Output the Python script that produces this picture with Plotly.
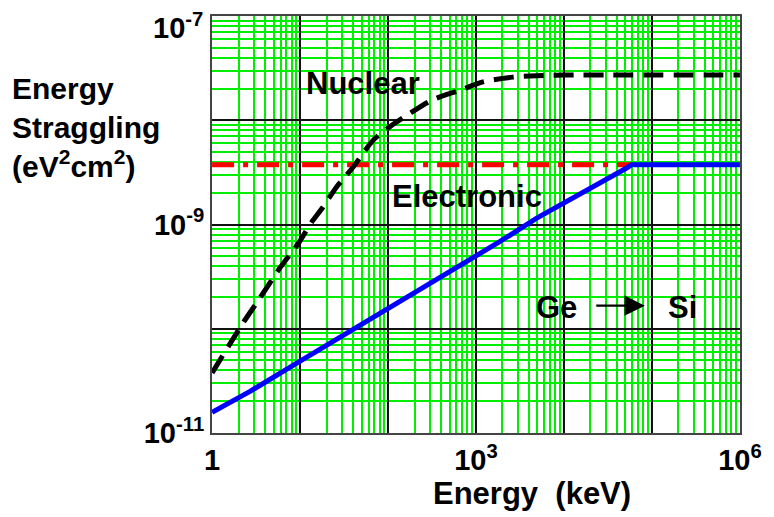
import plotly.graph_objects as go

# Energy (keV) and straggling (eV^2 cm^2) for Ge ions in Si
nuclear_energy = [1, 2.25, 3.5, 5.9, 9.8, 13.5, 18, 26, 40, 68, 105, 178, 324, 660,
                  1200, 2630, 4070, 10000, 1e6]
nuclear_strag = [3.76e-11, 1.135e-10, 1.97e-10, 3.83e-10, 6.79e-10, 1.05e-9, 1.45e-9,
                 2.29e-9, 3.55e-9, 6.46e-9, 8.7e-9, 1.17e-8, 1.58e-8, 1.95e-8,
                 2.34e-8, 2.6e-8, 2.66e-8, 2.72e-8, 2.72e-8]

bohr_energy = [1, 59000]
bohr_strag = [3.75e-9, 3.75e-9]

electronic_energy = [1, 2.7, 9.8, 37, 98, 275, 980, 1860, 4900, 9800, 51000, 59000, 1e6]
electronic_strag = [1.57e-11, 2.5e-11, 4.83e-11, 9.4e-11, 1.52e-10, 2.6e-10, 4.91e-10,
                    6.84e-10, 1.15e-9, 1.58e-9, 3.47e-9, 3.75e-9, 3.75e-9]

x_tickvals = [1, 10, 100, 1e3, 1e4, 1e5, 1e6]
x_ticktext = ["1", "", "", "10<sup>3</sup>", "", "", "10<sup>6</sup>"]
y_tickvals = [1e-11, 1e-10, 1e-9, 1e-8, 1e-7]
# the top decade label is placed separately, just below the frame edge
y_ticktext = ["10<sup>-11</sup>", "", "10<sup>-9</sup>", "", ""]
y_top_label = "10<sup>-7</sup>"

FONT = "Liberation Sans, Arial, sans-serif"

fig = go.Figure()
fig.add_trace(go.Scatter(x=bohr_energy, y=bohr_strag, mode="lines",
                         line=dict(color="#ff0000", width=5, dash="22px,9px,5px,9px")))
fig.add_trace(go.Scatter(x=electronic_energy, y=electronic_strag, mode="lines",
                         line=dict(color="#0000ff", width=5)))
fig.add_trace(go.Scatter(x=nuclear_energy, y=nuclear_strag, mode="lines",
                         line=dict(color="black", width=5, dash="20px,10px",
                                   shape="spline", smoothing=0.8)))

grid_minor = dict(dtick="D1", showgrid=True, gridcolor="#00ee00", gridwidth=1.5, ticks="")
tick_font = dict(size=29, family=FONT, weight="bold", color="black")

fig.update_xaxes(type="log", range=[-0.001, 6.001], tickmode="array", tickvals=x_tickvals,
                 ticktext=x_ticktext, showgrid=True, gridcolor="#111111", gridwidth=1.5,
                 minor=grid_minor, showline=True, linecolor="#444444", linewidth=2,
                 mirror=True, ticks="", zeroline=False, tickfont=tick_font,
                 ticklabeloverflow="allow", automargin=False)
fig.update_yaxes(type="log", range=[-11.002, -6.998], tickmode="array", tickvals=y_tickvals,
                 ticktext=y_ticktext, showgrid=True, gridcolor="#111111", gridwidth=1.5,
                 minor=grid_minor, showline=True, linecolor="#444444", linewidth=2,
                 mirror=True, ticks="", zeroline=False, tickfont=tick_font,
                 ticklabeloverflow="allow", automargin=False)

txt = dict(family=FONT, size=31, weight="bold", color="black")
annotations = [
    dict(x=-0.013, y=0.976, xref="paper", yref="paper", xanchor="right", yanchor="middle",
         text=y_top_label, showarrow=False, font=tick_font),
    dict(x=1.716, y=-7.643, xref="x", yref="y", text="Nuclear", showarrow=False, font=txt),
    dict(x=2.90, y=-8.727, xref="x", yref="y", text="Electronic", showarrow=False, font=txt),
    dict(x=3.92, y=-9.80, xref="x", yref="y", text="Ge", showarrow=False, font=txt),
    dict(x=5.35, y=-9.80, xref="x", yref="y", text="Si", showarrow=False, font=txt),
    dict(x=4.92, y=-9.779, ax=4.35, ay=-9.779, xref="x", yref="y", axref="x", ayref="y",
         text="", showarrow=True, arrowhead=2, arrowsize=1.7, arrowwidth=2.4,
         arrowcolor="black"),
    dict(x=-0.3826, y=0.87, xref="paper", yref="paper", xanchor="left", yanchor="top",
         align="left", showarrow=False, font=dict(family=FONT, size=30, weight="bold"),
         text="Energy<br>Straggling<br>(eV<sup>2</sup>cm<sup>2</sup>)"),
    dict(x=0.606, y=-0.144, xref="paper", yref="paper", xanchor="center", yanchor="middle",
         showarrow=False, font=dict(family=FONT, size=31, weight="bold"),
         text="Energy  (keV)"),
]

fig.update_layout(width=774, height=517, margin=dict(l=212, r=34, t=16, b=84),
                  paper_bgcolor="white", plot_bgcolor="white", showlegend=False,
                  font=dict(family=FONT, color="black"), annotations=annotations)

fig.write_html("out.html")
